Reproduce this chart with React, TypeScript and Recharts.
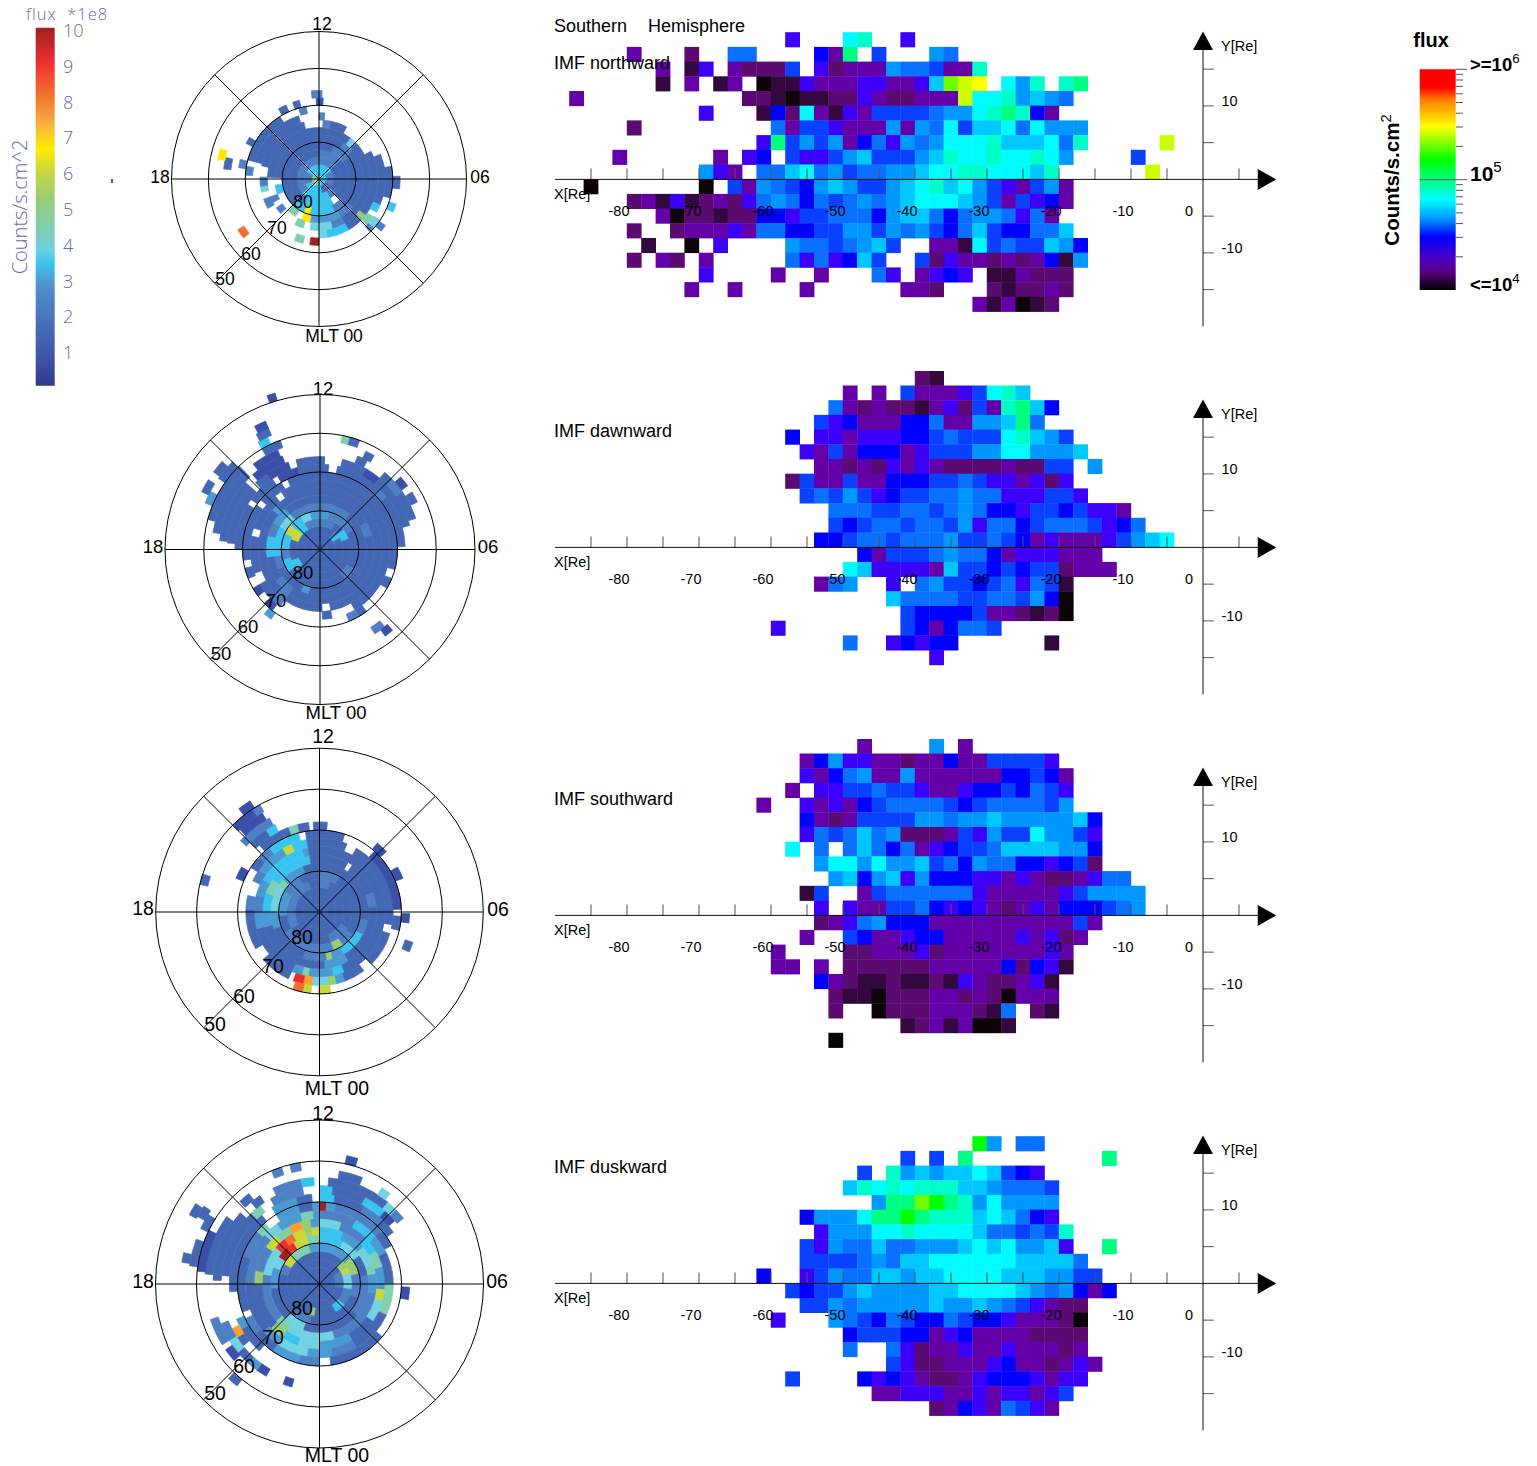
import { Bar, BarChart, Cell, Pie, PieChart, PolarGrid, ReferenceDot, ReferenceLine, Scatter, ScatterChart, XAxis, YAxis } from "recharts";

// flux levels of the tail maps, low to high ("a" is about 10^4 counts)
const tailColors: Record<string, string> = {
  a: "#0c0408", b: "#33083e", c: "#5a0a70", d: "#6400a8", e: "#3c00f8", f: "#0000ff", g: "#0a40ff", h: "#0a70ff", i: "#0098ff",
  j: "#00c8ff", k: "#00fcff", l: "#00ffc8", m: "#00ff80", n: "#00ff00", o: "#70ff00", p: "#ccff00", q: "#ffff00",
};

// flux levels of the polar maps, in units of 1e8
const polarColors: Record<string, string> = {
  A: "#3a50a8", B: "#4568b5", C: "#4f80c4", D: "#4a9ad4", E: "#38c4ee", F: "#72d2e2", G: "#80d0b0",
  H: "#9acc70", I: "#c8d83c", J: "#ffe800", K: "#fba030", L: "#f47030", M: "#e83030", N: "#a02020",
};

// tail maps: one string per 2 Re row, from Y=22..24 downwards. "col:levels" where col 0 is X=-86..-84
const northwardRows = [
  "", "",
  "14:e 18:kl 22:e",
  "3:d 7:c 10:hh 16:fdm 20:g 24:ih",
  "5:d 7:be 10:dcccg 16:ecdddihhgddl",
  "5:b 7:d 9:bd 12:abbedddeeddejopq 29:kil 33:lm",
  "-1:d 11:ccbabbccedccdddpkklijih",
  "8:e 12:bfckdbedgggghiiklmlfd",
  "3:c 13:hdggedddidihkgjjkhkiii",
  "12:emgigidfheihikkkljjjkhl 40:p",
  "2:d 9:d 11:ef 14:geegijgggijlkklkklki 38:g",
  "8:ied 12:hhjkhighhiijkkllkkkjl 39:p",
  "0:a 8:a 10:gd 12:ihgfijiggijkljkigedgid",
  "3:cdbebcdcehihfhghihijkkkjigdgefd",
  "5:daccbccffegghhhfijjhfhiihehd",
  "3:c 6:cdddedhhffggiigihigfhjgffhhj",
  "4:b 7:a 9:e 14:ihhghijg 24:ddbkghggjif",
  "3:c 5:dc 8:d 14:hehefjg 23:gceddcdcdfbi",
  "8:e 13:d 16:d 20:he 23:defe 28:bbdccc",
  "7:d 10:d 15:d 22:ddc 28:cbccdc",
  "27:dbdabc",
];

const dawnwardRows = [
  "23:cb",
  "18:d 20:d 22:gdddegklj",
  "17:hdcdccbdecgdlmjf",
  "16:gefdddffhddiijmh",
  "14:f 16:eedeeeffghgggkljig",
  "15:edgdfffdegggiikkiiij",
  "16:ddcdcededccccdccgg 35:i",
  "14:cgddgddfffgghgeedece",
  "15:ghgigefgghhihheeegge",
  "17:hhhgghhghihffeggfgeed",
  "17:gfghhghhgiehhfghhhgefh",
  "16:ffghhghhhigghgfdedddegijk",
  "19:fdggghihhfdeeeddd",
  "18:kjeeeedjggfgfggcddd",
  "16:dhi 21:e 23:higgfghehgb",
  "21:jhhhhgghhgifa",
  "22:gffffgddcbca",
  "13:e 22:gfdfhhg",
  "18:h 21:efeff 32:b",
  "24:e",
  "",
];

const southwardRows = [
  "19:d 24:i 26:d",
  "15:dfieeddcddfddgggge",
  "15:edfhiddiddddddffgfd",
  "14:d 16:eegghggeddeffgfhge",
  "12:d 15:ededfghhhhgfghhhhgi",
  "15:fdcdggggiihiijiiiiijf",
  "15:ehghjhicccdgeiggkiige",
  "14:k 16:h 18:hjhfhdefgghjjjjiif",
  "16:ikkikiijghfihhffefgc",
  "17:ijfijeifffeededccdehh",
  "15:bg 19:dghhhhhhedddddegiiii",
  "16:e 18:eddgghfefedcdedfffghi",
  "16:cdehifffddddddddddgd",
  "15:d 18:gfddeffdddddedecd",
  "13:d 18:ccdddecddddddded",
  "13:dd 16:d 18:ccccccdddddfcfeb",
  "16:fdcbbcbbcbedccdeb",
  "17:cbbacccddcdcaddd",
  "17:c 20:acccdddcbh 31:cb",
  "22:bcdbdaab",
  "17:a",
];

const duskwardRows = [
  "", "",
  "27:ni 30:hh",
  "22:g 24:g 26:m 36:m",
  "19:g 21:lijijjkjgfe",
  "18:jlklkllljjihhhg",
  "20:immonmlikiiii",
  "15:fiiikmmnmllljkjhfe",
  "16:eiiikklkkkkjhhghgl",
  "15:geihhjhhiiijkjkiije 36:m",
  "15:gggghihjjkkkkkkjjjjh",
  "12:f 15:egihhjjijjkkkkjjjiigg",
  "14:gfggijiiiijjkkkkjihifdf",
  "15:ggihiiiiijiijihgedcc",
  "13:e 17:ihgfhgffhgffedddca",
  "18:fgggffdefddddcccc",
  "18:h 21:hecddeddedddcd",
  "21:geccdddefddcded",
  "14:g 19:fefedccdefffedee",
  "20:ddeeeddedeedeg",
  "24:cdfedhged",
];

// polar maps: one string per 2 deg ring from the pole outwards. "angle:level", angle clockwise from MLT 12, "." is no data
const northPolar = [
  "0:E 200:H 300:E",
  "0:E 60:C 120:B 170:E 250:C 300:E",
  "0:C 50:B 130:C 150:E 230:C 290:C",
  "0:C 50:B 135:. 150:E 215:B",
  "0:B 25:C 55:B 135:C 155:E 195:J 205:E 225:B",
  "0:B 35:C 50:B 130:C 150:D 192:J 203:. 212:G 224:. 250:E 262:. 272:B",
  "0:B 38:F 46:B 150:C 165:F 190:. 198:G 208:. 228:C 236:. 243:C 250:. 272:B",
  "4:C 12:B 28:. 62:B 128:H 134:B 150:E 172:F 180:. 240:C 250:. 257:F 263:C 272:. 283:B 345:.",
  "0:C 5:. 68:B 113:E 120:. 125:G 134:. 180:N 188:. 194:G 202:. 285:B 342:.",
  "80:B 105:. 124:F 132:C 136:. 273:C 280:. 285:B 328:. 344:C 350:.",
  "0:A 3:. 88:B 97:. 108:E 114:. 125:C 130:. 278:C 284:. 296:B 301:. 330:B 336:. 341:B 346:. 358:A",
  "0:C 2:. 355:C",
  "232:L 238:. 276:B 283:.",
  "281:J 287:.",
];

const dawnPolar = [
  "0:B",
  "0:B",
  "0:B 40:C 50:E 60:B",
  "0:C 30:B 50:E 70:B 230:E 250:B 290:I 312:E 330:C",
  "0:D 15:C 60:B 120:C 140:B 235:E 255:C 270:E 295:I 310:E 330:F 345:D",
  "0:C 40:B 195:D 205:B 245:C 262:E 300:F 320:C 345:C",
  "0:B 60:C 75:B 215:C 235:B 262:E 285:C 300:D 320:B",
  "0:B 170:. 178:B 215:C 225:B 310:D 316:B",
  "0:B 150:. 170:B 178:. 215:C 225:B 240:. 250:B 281:. 288:B 320:. 326:B",
  "0:B 105:. 112:B 120:. 143:B 150:C 158:. 218:A 226:. 233:A 240:. 248:B 256:. 262:B 305:. 310:B 330:. 335:B",
  "0:B 6:. 12:B 45:C 52:B 88:. 215:D 221:. 270:B 302:. 306:B 326:. 330:A 345:B",
  "0:B 3:. 14:B 30:A 40:B 75:. 274:B 312:. 316:B 325:A 340:. 345:B",
  "22:B 28:. 40:B 46:C 55:B 72:. 140:C 147:. 275:B 312:. 318:A 338:.",
  "25:B 30:. 48:A 54:. 58:B 64:. 138:A 143:. 279:B 316:. 322:A 337:.",
  "11:G 15:B 20:. 285:B 316:. 330:B 340:.",
  "292:D 298:. 305:B 315:. 330:E 335:.",
  "296:B 302:. 306:B 312:. 331:B 337:.",
  "332:A 337:.",
  "", "",
  "341:A 344:.",
];

const southPolar = [
  "0:B",
  "0:B",
  "0:B",
  "0:C 20:B 120:C 160:B 240:C 340:B",
  "0:C 30:B 125:C 145:H 160:C 240:B 265:D 300:C 330:B",
  "0:B 100:C 118:E 150:D 165:H 172:C 200:B 250:D 270:F 303:G 312:D 340:B",
  "0:B 30:. 35:B 70:C 85:B 150:D 175:B 255:D 270:E 290:G 305:E 350:B",
  "0:B 158:E 168:D 190:G 196:D 205:B 255:D 270:C 285:D 300:E 345:D 350:B",
  "0:B 22:. 30:B 100:. 107:B 135:. 143:B 160:D 167:H 173:F 186:K 193:M 201:. 205:B 230:. 240:B 272:C 283:. 295:C 305:D 330:I 338:E 350:B",
  "0:B 18:. 42:A 88:. 93:B 103:. 172:I 181:. 186:I 192:L 199:. 303:B 312:C 322:E 345:. 350:B",
  "0:B 5:. 40:A 48:. 60:A 68:. 91:A 97:. 292:A 300:. 318:B 340:G 346:B 353:. 356:B",
  "108:B 114:. 315:B 327:E 333:.",
  "312:C 332:.",
  "316:A 330:.",
  "283:B 288:. 315:A 327:C 331:.",
  "322:A 328:.",
];

const duskPolar = [
  "0:B",
  "0:B",
  "0:B 60:C 100:B",
  "0:B 45:H 60:I 70:F 100:C 130:E 150:B 190:H 200:B",
  "0:D 50:H 75:C 110:B 195:C 220:B 285:C 300:I 315:G 345:D",
  "0:E 30:F 55:B 80:C 130:B 200:F 225:B 265:D 290:F 304:N 318:M 328:I 345:G",
  "0:E 25:D 50:F 70:G 80:D 100:C 165:F 215:G 230:C 280:F 310:M 322:L 332:I 345:H 352:I",
  "0:F 20:C 45:E 60:G 75:D 95:I 105:F 125:B 150:D 180:F 200:E 215:H 228:B 270:H 282:C 305:I 318:G 332:K 343:H 352:D",
  "0:C 30:E 50:D 65:B 90:G 115:B 150:C 170:D 190:F 215:D 230:B 270:C 312:F 325:D 345:G 355:D",
  "0:N 5:D 12:C 50:B 62:. 130:B 172:. 180:C 195:D 215:B 232:C 245:. 250:B 290:C 310:G 318:. 328:D 345:B 355:D",
  "0:E 10:B 30:C 45:B 55:. 92:A 100:. 222:B 240:D 247:. 265:B 320:. 328:D 345:B 355:.",
  "0:E 8:B 28:E 42:A 50:. 231:B 237:K 243:. 275:B 316:G 323:. 330:C 350:.",
  "5:B 30:B 40:F 46:C 52:. 195:A 200:. 210:A 216:D 222:B 230:F 238:C 248:. 272:B 312:. 320:B 326:. 334:C 350:E 357:.",
  "10:B 22:. 33:F 38:. 228:A 235:. 238:C 252:. 275:B 306:. 316:B 322:.",
  "276:A 296:. 337:C 342:. 346:C 351:.",
  "12:A 17:. 219:B 224:. 278:B 290:. 295:B 302:.",
  "279:B 283:. 299:B 304:.",
  "298:B 303:.",
];

const xTickValues = [-85, -80, -75, -70, -65, -60, -55, -50, -45, -40, -35, -30, -25, -20, -15, -10, -5, 5];
const yTickValues = [15, 10, 5, -5, -10, -15];
const xTickLabels = [-80, -70, -60, -50, -40, -30, -20, -10, 0];
const yTickLabels = [10, -10];

const fluxBarTicks = [1, 2, 3, 4, 5, 6, 7, 8, 9, 10];
const logFluxTicks = [20000, 30000, 40000, 50000, 60000, 70000, 80000, 90000, 100000, 200000, 300000, 400000, 500000, 600000, 700000, 800000, 900000, 1000000];

const leftBarStops = [
  [0, "#a02020"], [0.1, "#ee3030"], [0.2, "#f47a30"], [0.27, "#fbb040"], [0.34, "#ffee00"], [0.4, "#c8d840"],
  [0.48, "#98cc78"], [0.57, "#80cfb8"], [0.62, "#6fd0e0"], [0.66, "#38c4ee"], [0.72, "#4f92cc"], [0.85, "#4468b4"], [0.93, "#3c52a6"], [1, "#2f3a8c"],
] as const;
const rightBarStops = [
  [0, "#ff0000"], [0.08, "#ff0000"], [0.14, "#ff8000"], [0.26, "#ffff00"], [0.41, "#00ff00"], [0.5, "#00ff80"], [0.59, "#00ffff"],
  [0.67, "#00a0ff"], [0.76, "#0000ff"], [0.86, "#5000c0"], [0.92, "#5a0080"], [1, "#000000"],
] as const;

const font = "'Liberation Sans', Arial, sans-serif";
const thinFont = "'Open Sans', sans-serif";
const barInk = "#666bad";

function decodeTail(rows: string[]) {
  const cells: { x: number; y: number; level: string }[] = [];
  rows.forEach((row, i) => {
    row.split(" ").filter(Boolean).forEach((run) => {
      const [col, levels] = run.split(":");
      [...levels].forEach((level, j) => {
        cells.push({ x: -85 + 2 * (Number(col) + j), y: 23 - 2 * i, level });
      });
    });
  });
  return cells;
}

function decodeRing(ring: string) {
  const entries = ring.split(" ").filter(Boolean).map((e) => e.split(":"));
  const out: { width: number; fill: string }[] = [];
  let prev = 0;
  let level = ".";
  for (const [angle, next] of entries) {
    const a = Number(angle);
    if (a > prev) out.push({ width: a - prev, fill: polarColors[level] ?? "none" });
    prev = a;
    level = next;
  }
  if (prev < 360) out.push({ width: 360 - prev, fill: polarColors[level] ?? "none" });
  return out;
}

function T({ x, y, size = 14, color = "#000", weight = 400, rotate = 0, anchor = "left", spacing = 0, family = font, children }: any) {
  const tx = anchor === "left" ? "0" : "-50%";
  return (
    <div style={{ position: "absolute", left: x, top: y, whiteSpace: "nowrap", fontFamily: family, fontSize: size, color, fontWeight: weight, lineHeight: 1, letterSpacing: spacing, transform: `translate(${tx},-50%) rotate(${rotate}deg)` }}>
      {children}
    </div>
  );
}

const tailMargin = { top: 5, right: 20, bottom: 6.9, left: 10 };

function TailMap({ rows, axisY }: { rows: string[]; axisY: number }) {
  const cells = decodeTail(rows);
  const top = axisY - 181.4;
  return (
    <>
      <div style={{ position: "absolute", left: 545, top }}>
        <ScatterChart width={750} height={350} margin={tailMargin}>
          <XAxis type="number" dataKey="x" domain={[-90, 10]} allowDataOverflow hide />
          <YAxis type="number" dataKey="y" domain={[-22, 24]} allowDataOverflow hide />
          <Scatter
            data={cells}
            isAnimationActive={false}
            shape={(p: any) => <rect x={p.cx - 7.4} y={p.cy - 7.55} width={14.8} height={15.1} fill={tailColors[p.payload.level]} />}
          />
        </ScatterChart>
      </div>
      {/* axes go in a second layer so they stay above the cells */}
      <div style={{ position: "absolute", left: 545, top }}>
        <ScatterChart width={750} height={350} margin={tailMargin}>
          <XAxis type="number" dataKey="x" domain={[-90, 10]} allowDataOverflow hide />
          <YAxis type="number" dataKey="y" domain={[-22, 24]} allowDataOverflow hide />
          {xTickValues.map((t) => (
            <ReferenceLine key={t} segment={[{ x: t, y: 0 }, { x: t, y: 1.5 }]} stroke="#555" ifOverflow="visible" />
          ))}
          {yTickValues.map((t) => (
            <ReferenceLine key={t} segment={[{ x: 0, y: t }, { x: 1.5, y: t }]} stroke="#555" ifOverflow="visible" />
          ))}
          <ReferenceLine segment={[{ x: -90, y: 0 }, { x: 7.6, y: 0 }]} stroke="#111" ifOverflow="visible" />
          <ReferenceLine segment={[{ x: 0, y: -20 }, { x: 0, y: 17.6 }]} stroke="#111" ifOverflow="visible" />
          <ReferenceDot x={7.6} y={0} r={0} ifOverflow="visible" shape={(p: any) => <polygon points={`${p.cx},${p.cy - 10.5} ${p.cx + 18.5},${p.cy} ${p.cx},${p.cy + 10.5}`} fill="#000" />} />
          <ReferenceDot x={0} y={17.6} r={0} ifOverflow="visible" shape={(p: any) => <polygon points={`${p.cx - 10},${p.cy} ${p.cx},${p.cy - 18.5} ${p.cx + 10},${p.cy}`} fill="#000" />} />
          {xTickLabels.map((t) => (
            <ReferenceDot key={t} x={t} y={0} r={0} ifOverflow="visible" shape={(p: any) => (
              <text x={p.cx - (t === 0 ? 14 : 8)} y={p.cy + 37} textAnchor="middle" fontFamily={font} fontSize={14.5} fill="#000">{t}</text>
            )} />
          ))}
          {yTickLabels.map((t) => (
            <ReferenceDot key={t} x={0} y={t} r={0} ifOverflow="visible" shape={(p: any) => (
              <text x={p.cx + 18.5} y={p.cy} fontFamily={font} fontSize={14.5} fill="#000">{t}</text>
            )} />
          ))}
        </ScatterChart>
      </div>
      <T x={554} y={axisY + 14} size={14.5}>X[Re]</T>
      <T x={1221} y={axisY - 133.5} size={14.5}>Y[Re]</T>
    </>
  );
}

function PolarMap({ rings, cx, cy, radius, size, labels }: any) {
  const pitch = radius / 20;
  const left = Math.floor(cx) - 210;
  const top = Math.floor(cy) - 210;
  const localX = cx - left;
  const localY = cy - top;
  // the grid centres itself in its chart and its spokes run to 80% of the half size,
  // so the layer is 2.5 radii wide and moved onto the map centre
  const gridSize = radius * 2.5;
  return (
    <>
      <div style={{ position: "absolute", left, top }}>
        <PieChart width={420} height={420} margin={{ top: 0, right: 0, bottom: 0, left: 0 }}>
          {rings.map((ring: string, k: number) => {
            const sectors = decodeRing(ring);
            if (!ring) return null;
            return (
              <Pie key={k} data={sectors} dataKey="width" cx={localX} cy={localY} innerRadius={pitch * k} outerRadius={pitch * (k + 1)} startAngle={90} endAngle={-270} label={false} labelLine={false} isAnimationActive={false}>
                {sectors.map((s, i) => <Cell key={i} fill={s.fill} stroke={s.fill} strokeWidth={s.fill === "none" ? 0 : 0.7} />)}
              </Pie>
            );
          })}
        </PieChart>
      </div>
      <div style={{ position: "absolute", left: 0, top: 0, transform: `translate(${cx - gridSize / 2}px, ${cy - gridSize / 2}px)` }}>
        <PieChart width={gridSize} height={gridSize} margin={{ top: 0, right: 0, bottom: 0, left: 0 }}>
          <PolarGrid gridType="circle" innerRadius={0} outerRadius={radius} polarAngles={[0, 45, 90, 135, 180, 225, 270, 315]} polarRadius={[radius / 4, radius / 2, (radius * 3) / 4, radius]} stroke="#000" strokeWidth={1} />
        </PieChart>
      </div>
      {labels.map(([text, x, y]: [string, number, number]) => (
        <T key={text} x={x} y={y} size={size} anchor="middle">{text}</T>
      ))}
    </>
  );
}

function PolarFluxBar() {
  return (
    <div style={{ position: "absolute", left: 30, top: 8 }}>
      <BarChart width={70} height={387} data={[{ name: "flux", top: 10 }]} barCategoryGap={0} margin={{ top: 19.7, right: 0, bottom: 9.3, left: 5.7 }}>
        <defs>
          <linearGradient id="polarFlux" x1="0" y1="0" x2="0" y2="1">
            {leftBarStops.map(([o, c]) => <stop key={o} offset={o} stopColor={c} />)}
          </linearGradient>
        </defs>
        <XAxis dataKey="name" hide />
        <YAxis orientation="right" width={45} domain={[0, 10]} ticks={fluxBarTicks} interval={0} axisLine={false} tickLine={false} tickSize={0} tickMargin={8} tick={{ fill: barInk, fontSize: 18, fontFamily: thinFont, fontWeight: 300, dy: 3 }} />
        <Bar dataKey="top" fill="url(#polarFlux)" isAnimationActive={false} />
      </BarChart>
    </div>
  );
}

function TailFluxBar() {
  const tick = (p: any) => {
    const major = p.payload.value === 100000 || p.payload.value === 1000000;
    return <line x1={p.x - (p.payload.value === 100000 ? 36.3 : 0)} x2={p.x + (major ? 11 : 7)} y1={p.y} y2={p.y} stroke="#555" />;
  };
  return (
    <div style={{ position: "absolute", left: 1410, top: 60 }}>
      <BarChart width={76} height={240} data={[{ name: "flux", top: 1000000 }]} barCategoryGap={0} margin={{ top: 9.3, right: 0, bottom: 10, left: 9.7 }}>
        <defs>
          <linearGradient id="tailFlux" x1="0" y1="0" x2="0" y2="1">
            {rightBarStops.map(([o, c]) => <stop key={o} offset={o} stopColor={c} />)}
          </linearGradient>
        </defs>
        <XAxis dataKey="name" hide />
        <YAxis orientation="right" width={30} scale="log" domain={[10000, 1000000]} ticks={logFluxTicks} interval={0} axisLine={false} tickLine={false} tickSize={0} tickMargin={0} tick={tick} />
        <Bar dataKey="top" fill="url(#tailFlux)" isAnimationActive={false} />
      </BarChart>
    </div>
  );
}

const sup = { fontSize: "0.72em", verticalAlign: "0.55em", lineHeight: 0, fontWeight: 400 };

export default function App() {
  return (
    <div style={{ position: "absolute", left: 0, top: 0, width: 1537, height: 1466, background: "#fff", overflow: "hidden" }}>
      <PolarFluxBar />
      <T x={26} y={14} size={16.5} color={barInk} spacing={1} family={thinFont} weight={300}>flux&nbsp; *1e8</T>
      <T x={20} y={207} size={20} color={barInk} anchor="middle" rotate={-90} family={thinFont} weight={300}>Counts/s.cm^2</T>
      <div style={{ position: "absolute", left: 111, top: 179, width: 2, height: 4, background: "#4a5fb0" }} />

      <PolarMap rings={northPolar} cx={319} cy={179} radius={147.5} size={17.5} labels={[["12", 322, 25], ["18", 160, 178], ["06", 480, 178], ["MLT 00", 334, 337], ["80", 303, 203], ["70", 277, 229], ["60", 251, 255], ["50", 225, 280]]} />
      <PolarMap rings={dawnPolar} cx={320} cy={549.5} radius={155} size={18.5} labels={[["12", 323, 389], ["18", 153, 547], ["06", 488, 547], ["MLT 00", 336, 713], ["80", 303, 573], ["70", 276, 601], ["60", 248, 627], ["50", 221, 654]]} />
      <PolarMap rings={southPolar} cx={319.5} cy={912} radius={163.8} size={19.5} labels={[["12", 323, 737], ["18", 143, 909], ["06", 498, 910], ["MLT 00", 337, 1089], ["80", 302, 938], ["70", 273, 967], ["60", 244, 997], ["50", 215, 1025]]} />
      <PolarMap rings={duskPolar} cx={319.5} cy={1284} radius={164} size={19.5} labels={[["12", 323, 1114], ["18", 143, 1282], ["06", 497, 1282], ["MLT 00", 337, 1456], ["80", 302, 1309], ["70", 273, 1338], ["60", 244, 1367], ["50", 215, 1394]]} />

      <TailMap rows={northwardRows} axisY={179.5} />
      <TailMap rows={dawnwardRows} axisY={547.5} />
      <TailMap rows={southwardRows} axisY={915.5} />
      <TailMap rows={duskwardRows} axisY={1283.5} />

      <T x={554} y={26} size={18}>Southern</T>
      <T x={648} y={26} size={18}>Hemisphere</T>
      <T x={554} y={63} size={18}>IMF northward</T>
      <T x={554} y={431} size={18}>IMF dawnward</T>
      <T x={554} y={799} size={18}>IMF southward</T>
      <T x={554} y={1167} size={18}>IMF duskward</T>

      <TailFluxBar />
      <T x={1431} y={40} size={20} weight={700} anchor="middle">flux</T>
      <T x={1392} y={180} size={20.5} weight={700} anchor="middle" rotate={-90}>Counts/s.cm<span style={sup}>2</span></T>
      <T x={1470} y={65} size={18.5} weight={700}>&gt;=10<span style={sup}>6</span></T>
      <T x={1470} y={173} size={21} weight={700}>10<span style={sup}>5</span></T>
      <T x={1470} y={285} size={18.5} weight={700}>&lt;=10<span style={sup}>4</span></T>
    </div>
  );
}
